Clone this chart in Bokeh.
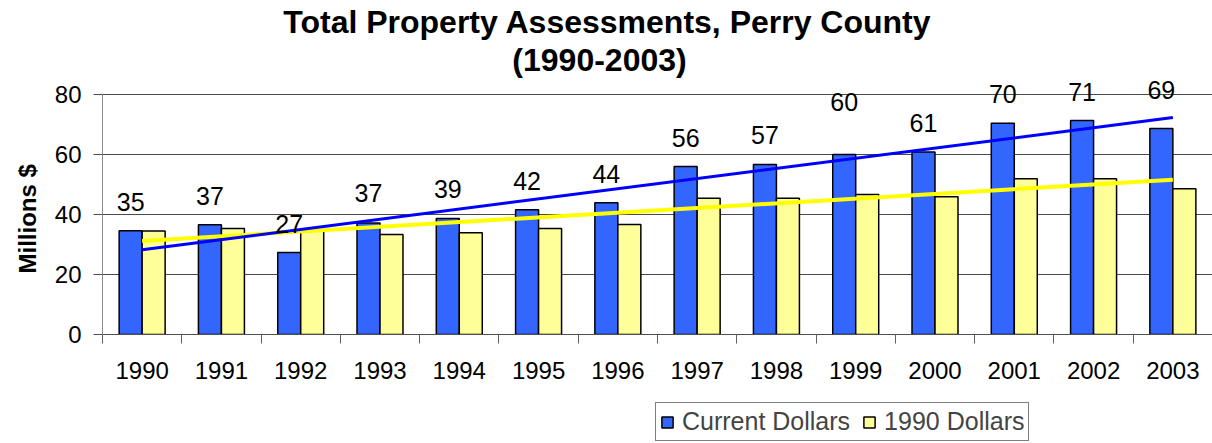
import numpy as np
from bokeh.plotting import figure
from bokeh.layouts import column
from bokeh.models import (ColumnDataSource, Range1d, FixedTicker, Label, Legend,
                          LegendItem, Title)
from bokeh.core.properties import value
from bokeh.embed import file_html
from bokeh.resources import INLINE

# ---------------- data ----------------
years = ["1990", "1991", "1992", "1993", "1994", "1995", "1996",
         "1997", "1998", "1999", "2000", "2001", "2002", "2003"]
current_dollars = [34.6, 36.6, 27.3, 37.2, 38.7, 41.6, 43.9,
                   56.0, 56.7, 60.0, 60.8, 70.4, 71.3, 68.7]
dollars_1990 = [34.5, 35.3, 34.6, 33.3, 33.9, 35.3, 36.7,
                45.4, 45.4, 46.7, 45.9, 51.9, 51.9, 48.6]
y_ticks = [0, 20, 40, 60, 80]
title_lines = ["Total Property Assessments, Perry County", "(1990-2003)"]
y_title = "Millions $"
series_names = ["Current Dollars", "1990 Dollars"]

# ---------------- style ----------------
FONT = "Liberation Sans"
BLUE = "#3366FF"
YELLOW = "#FFFF99"
TREND_BLUE = "#0000FF"
TREND_YELLOW = "#FFFF00"
BAR_W = 0.29
label_lift_px = [29, 29, 29, 30, 29, 29, 29, 29, 29, 53, 29, 29, 29, 38]

n = len(years)
idx = np.arange(n)
centers = idx + 0.5
Y_MAX = y_ticks[-1]
FRAME_H = 334          # frame spans the whole top of the canvas
PX_PER_UNIT = 3.0      # 80 units -> 240 px
W = 1212
H1 = 398
H2 = 45

src = ColumnDataSource(dict(
    x_cur=centers - BAR_W / 2,
    x_90=centers + BAR_W / 2,
    cur=current_dollars,
    d90=dollars_1990,
    lab=[f"{v:.0f}" for v in current_dollars],
    yoff=[-v for v in label_lift_px],
))

# linear trend lines (least squares, as in the spreadsheet)
k1, b1 = np.polyfit(idx, current_dollars, 1)
k2, b2 = np.polyfit(idx, dollars_1990, 1)
tx = [centers[0], centers[-1]]
trend_cur = [k1 * idx[0] + b1, k1 * idx[-1] + b1]
trend_90 = [k2 * idx[0] + b2, k2 * idx[-1] + b2]

p = figure(width=W, height=H1, output_backend="svg", toolbar_location=None,
           x_range=Range1d(0, n), y_range=Range1d(0, FRAME_H / PX_PER_UNIT),
           min_border_left=99, min_border_right=0, min_border_top=0,
           min_border_bottom=H1 - FRAME_H, outline_line_color=None,
           background_fill_color="white", border_fill_color="white")

r_cur = p.vbar(x="x_cur", top="cur", width=BAR_W, source=src,
               fill_color=BLUE, line_color="black", line_width=1.5)
r_90 = p.vbar(x="x_90", top="d90", width=BAR_W, source=src,
              fill_color=YELLOW, line_color="black", line_width=1.5)

p.line(tx, trend_90, line_color=TREND_YELLOW, line_width=4)
p.line(tx, trend_cur, line_color=TREND_BLUE, line_width=3)

p.text(x="x_cur", y="cur", text="lab", source=src, y_offset="yoff",
       text_align="center", text_baseline="middle",
       text_font=value(FONT), text_font_size="25px", text_color="black")

# axes
p.xaxis.ticker = FixedTicker(ticks=list(centers), minor_ticks=list(range(n + 1)))
p.xaxis.major_label_overrides = {float(c): y for c, y in zip(centers, years)}
p.xaxis.major_tick_out = 0
p.xaxis.major_tick_in = 0
p.xaxis.minor_tick_out = 9
p.xaxis.minor_tick_in = 0
p.xaxis.minor_tick_line_color = "#606060"
p.xaxis.axis_line_color = "#505050"
p.xaxis.major_label_standoff = 18
p.xaxis.major_label_text_font = FONT
p.xaxis.major_label_text_font_size = "24px"
p.xaxis.major_label_text_color = "black"

p.yaxis.ticker = FixedTicker(ticks=y_ticks, minor_ticks=[])
p.yaxis.bounds = (0, Y_MAX)
p.yaxis.major_tick_out = 9
p.yaxis.major_tick_in = 0
p.yaxis.major_tick_line_color = "#505050"
p.yaxis.axis_line_color = "#8a8a8a"
p.yaxis.major_label_standoff = 12
p.yaxis.major_label_text_font = FONT
p.yaxis.major_label_text_font_size = "24px"
p.yaxis.major_label_text_color = "black"

p.add_layout(Title(text=y_title, align="left", offset=61, standoff=22,
                   text_font=FONT, text_font_size="24px", text_font_style="bold",
                   text_color="black"), "left")

p.xgrid.visible = False
p.ygrid.ticker = FixedTicker(ticks=y_ticks)
p.ygrid.grid_line_color = "#4a4a4a"
p.ygrid.grid_line_width = 1

# titles (screen units relative to the plot frame)
p.add_layout(Label(x=505, y=313, x_units="screen", y_units="screen",
                   text=title_lines[0], text_align="center", text_baseline="middle",
                   text_font=FONT, text_font_size="32px", text_font_style="bold",
                   text_color="black"))
p.add_layout(Label(x=497, y=275, x_units="screen", y_units="screen",
                   text=title_lines[1], text_align="center", text_baseline="middle",
                   text_font=FONT, text_font_size="32px", text_font_style="bold",
                   text_color="black"))

# ---------------- legend strip below the chart ----------------
q = figure(width=W, height=H2, output_backend="svg", toolbar_location=None,
           x_range=Range1d(0, 1), y_range=Range1d(0, 1),
           x_axis_location=None, y_axis_location=None,
           min_border_left=0, min_border_right=0, min_border_top=0,
           min_border_bottom=0, outline_line_color=None,
           background_fill_color="white", border_fill_color="white")
q.xgrid.visible = False
q.ygrid.visible = False
# swatch-only renderers: a tiny bar hidden under the opaque legend box
sw_cur = q.vbar(x=[0.7], bottom=[0.45], top=[0.55], width=0.002,
                fill_color=BLUE, line_color="black", line_width=1.5)
sw_90 = q.vbar(x=[0.7], bottom=[0.45], top=[0.55], width=0.002,
               fill_color=YELLOW, line_color="black", line_width=1.5)

legend = Legend(items=[LegendItem(label=series_names[0], renderers=[sw_cur]),
                       LegendItem(label=series_names[1], renderers=[sw_90])],
                location=(553, 2), orientation="horizontal",
                border_line_color="black", border_line_width=1,
                background_fill_color="white", background_fill_alpha=1,
                label_text_font=FONT, label_text_font_size="25px",
                glyph_width=14, glyph_height=14, label_standoff=8,
                spacing=12, padding=4, margin=0)
q.add_layout(legend, "center")

layout = column(p, q, spacing=0)
open("out.html", "w").write(file_html(layout, INLINE))
